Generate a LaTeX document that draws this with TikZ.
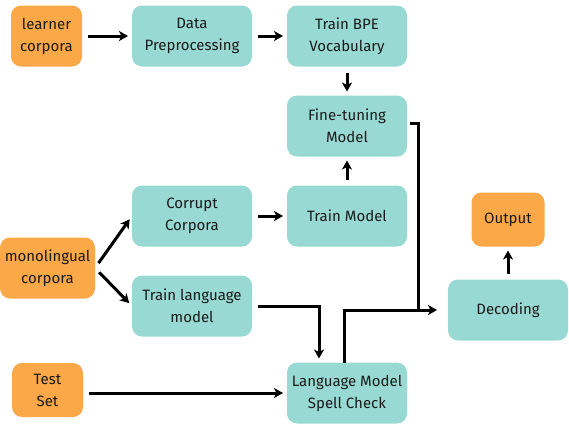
\documentclass[tikz,border=0pt]{standalone}
\usepackage{fontspec}
\setmainfont{Fira Sans}
\usepackage{tikz}
\usetikzlibrary{positioning,arrows.meta,calc}
\definecolor{boxteal}{HTML}{98D9D3}
\definecolor{boxorange}{HTML}{FAA848}
\definecolor{txtgray}{HTML}{1A1A1A}
\tikzset{->,>={Stealth[length=9pt,width=10pt,inset=2.5pt]},
shorten >=4pt,shorten <=6pt,
node distance=29pt,
tbox/.style={rectangle,rounded corners=10pt,fill=boxteal,draw=none,
	minimum width=120pt,minimum height=61pt,align=center,outer sep=0pt,
	text=txtgray,font=\fontsize{15}{22}\selectfont},
obox/.style={tbox,fill=boxorange,minimum width=71pt},
line/.style={-,shorten >=0pt},
}
\begin{document}
\begin{tikzpicture}[x=1pt,y=-1pt,line width=3pt]
	\useasboundingbox (0,0) rectangle (569,432);

	\node[obox] (learner) at (46.5,36) {learner\\corpora};
	\node[tbox] (data) at (192,36) {Data\\Preprocessing};
	\node[tbox,right=35pt of data] (bpe) {Train BPE\\Vocabulary};
	\node[tbox,below= of bpe] (finetune) {Fine-tuning\\Model};
	\node[tbox,below= of finetune] (trainm) {Train Model};
	\node[tbox,left=35pt of trainm] (corrupt) {Corrupt\\Corpora};
	\node[tbox,below= of corrupt] (trainlm) {Train language\\model};
	\node[obox,minimum width=95pt] (mono) at (47.5,268) {monolingual\\corpora};
	\node[obox,minimum height=54pt] (testset) at (47.5,390) {Test\\Set};
	\node[tbox] (spell) at (347,393) {Language Model\\Spell Check};
	\node[tbox] (decode) at (508,310) {Decoding};
	\node[obox,minimum width=73pt,minimum height=54pt,above=33pt of decode] (output) {Output};
	\coordinate (join) at (418,310);

	\draw (learner) -- (data);
	\draw (data) -- (bpe);
	\draw (bpe) -- (finetune);
	\draw (trainm) -- (finetune);
	\draw (corrupt) -- (trainm);
	\draw (mono.east) -- (corrupt.west);
	\draw (mono.east) -- (trainlm.west);
	\draw[shorten <=6pt] (trainlm.east) -| ([xshift=-28pt]spell.north);
	\draw (testset.east |- spell.west) -- (spell.west);
	\draw[line,shorten <=3pt] (finetune.east |- 0,123) -| (join);
	\draw[shorten <=0pt,shorten >=11pt] ([xshift=-3pt]spell.north) |- (decode.west);
	\draw (decode) -- (output);
\end{tikzpicture}
\end{document}
